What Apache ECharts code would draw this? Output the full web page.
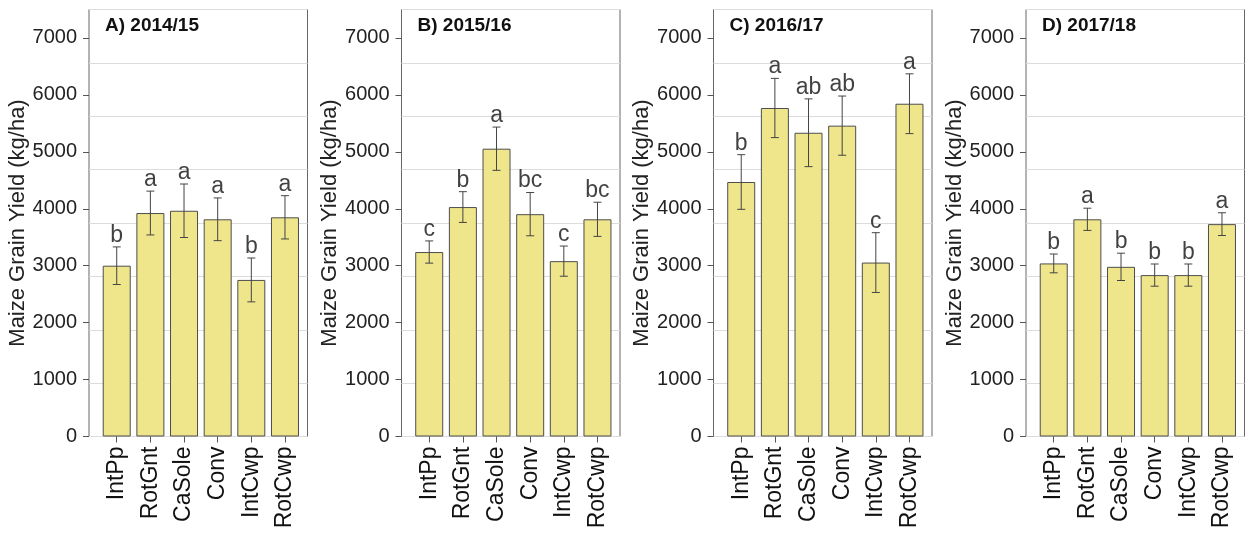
<!DOCTYPE html>
<html>
<head>
<meta charset="utf-8">
<script src="https://cdn.jsdelivr.net/npm/echarts@6/dist/echarts.min.js"></script>
<style>
html,body{margin:0;padding:0;background:#fff;}
#chart{width:1248px;height:535px;}
</style>
</head>
<body>
<div id="chart"></div>
<script>
const categories = ['IntPp', 'RotGnt', 'CaSole', 'Conv', 'IntCwp', 'RotCwp'];

const yield1415 = [3000, 3925, 3965, 3815, 2750, 3850];
const err1415 = [330, 385, 470, 375, 385, 380];
const letters1415 = ['b', 'a', 'a', 'a', 'b', 'a'];

const yield1516 = [3240, 4030, 5055, 3905, 3080, 3815];
const err1516 = [195, 270, 380, 380, 265, 300];
const letters1516 = ['c', 'b', 'a', 'bc', 'c', 'bc'];

const yield1617 = [4470, 5770, 5335, 5460, 3055, 5845];
const err1617 = [480, 520, 595, 520, 525, 525];
const letters1617 = ['b', 'a', 'ab', 'ab', 'c', 'a'];

const yield1718 = [3040, 3815, 2980, 2835, 2835, 3730];
const err1718 = [165, 195, 240, 195, 195, 200];
const letters1718 = ['b', 'a', 'b', 'b', 'b', 'a'];

const panelTitles = ['A) 2014/15', 'B) 2015/16', 'C) 2016/17', 'D) 2017/18'];
const yTickValues = [0, 1000, 2000, 3000, 4000, 5000, 6000, 7000];
const yAxisTitle = 'Maize Grain Yield (kg/ha)';

const panels = [
  { title: panelTitles[0], values: yield1415, errors: err1415, letters: letters1415 },
  { title: panelTitles[1], values: yield1516, errors: err1516, letters: letters1516 },
  { title: panelTitles[2], values: yield1617, errors: err1617, letters: letters1617 },
  { title: panelTitles[3], values: yield1718, errors: err1718, letters: letters1718 }
];

const FONT = 'Liberation Sans, Arial, Helvetica, sans-serif';
const boxLefts = [89, 401.5, 713.5, 1026];
const boxW = 218.5, boxTop = 9.5, boxH = 427;
const dataOffset = 10.9, dataW = 201.9;
const Y_MAX = 7500, GRID_STEP = 937.5;

const option = {
  backgroundColor: '#fff',
  animation: false,
  textStyle: { fontFamily: FONT },
  title: [], grid: [], xAxis: [], yAxis: [], series: []
};

panels.forEach((p, k) => {
  const bl = boxLefts[k];
  const gFrame = 2 * k, gData = 2 * k + 1;
  option.grid.push({ left: bl, top: boxTop, width: boxW, height: boxH, show: true,
    borderColor: '#666', borderWidth: 1, backgroundColor: 'transparent', containLabel: false });
  option.grid.push({ left: bl + dataOffset, top: boxTop, width: dataW, height: boxH, show: false, containLabel: false });

  option.title.push({
    text: p.title, left: bl + 16, top: 16, padding: 0,
    textStyle: { fontFamily: FONT, fontSize: 19, fontWeight: 'bold', color: '#111' }
  });

  option.xAxis.push({ gridIndex: gFrame, type: 'value', show: false, min: 0, max: 1 });
  option.yAxis.push({
    gridIndex: gFrame, type: 'value', min: 0, max: Y_MAX, interval: 1000, position: 'left',
    name: yAxisTitle, nameLocation: 'middle', nameGap: 40,
    nameTextStyle: { fontFamily: FONT, fontSize: 22, color: '#222' },
    axisLine: { show: false },
    axisTick: { show: true, length: 6, lineStyle: { color: '#555' }, customValues: yTickValues },
    axisLabel: { show: true, margin: 12, fontSize: 20, color: '#222', fontFamily: FONT,
      customValues: yTickValues, formatter: (v) => String(v) },
    splitLine: { show: false }
  });
  option.yAxis.push({
    gridIndex: gFrame, type: 'value', min: 0, max: Y_MAX, interval: GRID_STEP, position: 'right',
    axisLine: { show: false }, axisTick: { show: false }, axisLabel: { show: false },
    splitLine: { show: true, lineStyle: { color: '#dcdcdc', width: 1 } }
  });

  const xData = option.xAxis.length;
  option.xAxis.push({
    gridIndex: gData, type: 'category', data: categories,
    axisLine: { show: false },
    axisTick: { show: true, alignWithLabel: true, length: 6, lineStyle: { color: '#555' } },
    axisLabel: { rotate: 90, margin: 10, fontSize: 23, color: '#111', fontFamily: FONT, interval: 0 }
  });
  const yData = option.yAxis.length;
  option.yAxis.push({ gridIndex: gData, type: 'value', min: 0, max: Y_MAX, show: false, splitLine: { show: false } });

  option.series.push({
    type: 'bar', xAxisIndex: xData, yAxisIndex: yData,
    data: p.values, barWidth: 28,
    itemStyle: { color: '#EFE58B', borderColor: '#4d4d4d', borderWidth: 1 }
  });

  option.series.push({
    type: 'custom', xAxisIndex: xData, yAxisIndex: yData,
    data: p.values.map((v, i) => [i, v - p.errors[i], v + p.errors[i]]),
    renderItem: function (params, api) {
      const x = api.value(0);
      const lo = api.coord([x, api.value(1)]);
      const hi = api.coord([x, api.value(2)]);
      const hw = 4;
      const st = { stroke: '#444', lineWidth: 1 };
      return { type: 'group', children: [
        { type: 'line', shape: { x1: lo[0], y1: lo[1], x2: hi[0], y2: hi[1] }, style: st },
        { type: 'line', shape: { x1: hi[0] - hw, y1: hi[1], x2: hi[0] + hw, y2: hi[1] }, style: st },
        { type: 'line', shape: { x1: lo[0] - hw, y1: lo[1], x2: lo[0] + hw, y2: lo[1] }, style: st }
      ]};
    },
    z: 5
  });

  option.series.push({
    type: 'scatter', xAxisIndex: xData, yAxisIndex: yData,
    data: p.values.map((v, i) => [i, v + p.errors[i]]),
    symbolSize: 0,
    label: {
      show: true, position: 'top', distance: 0,
      formatter: (d) => p.letters[d.dataIndex],
      fontSize: 23, color: '#111', fontFamily: FONT
    },
    z: 6
  });
});

const chart = echarts.init(document.getElementById('chart'), null, { renderer: 'canvas' });
chart.setOption(option);
</script>
</body>
</html>
